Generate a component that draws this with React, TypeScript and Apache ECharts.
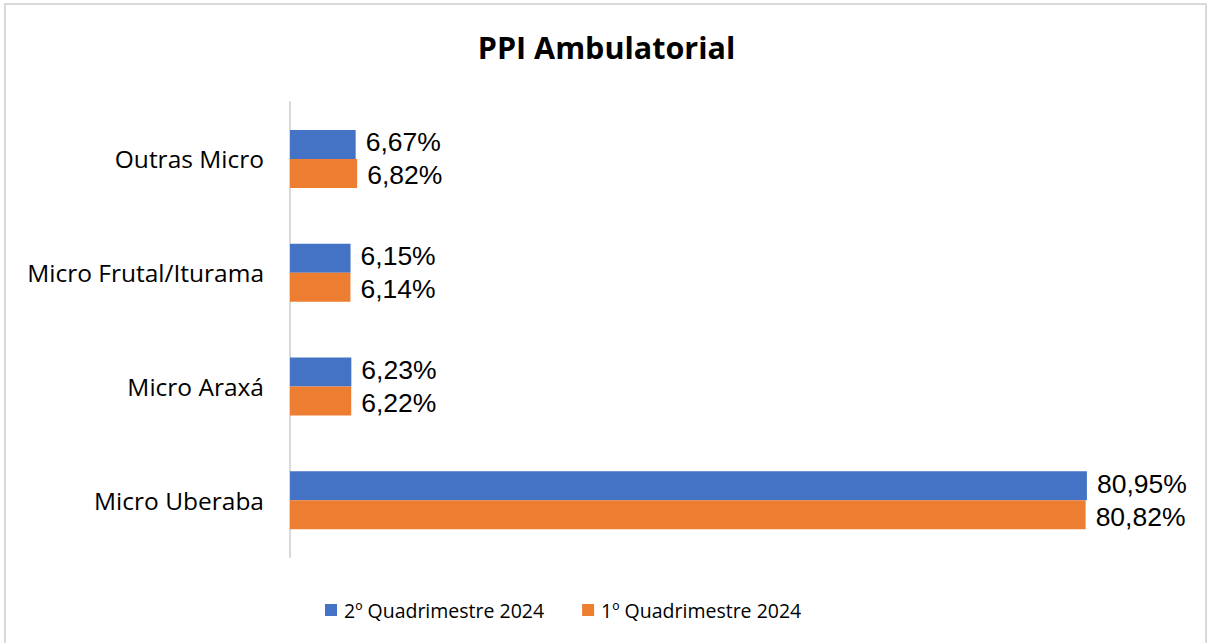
import React, { useEffect, useRef } from "react";
import * as echarts from "echarts";

const categories = ["Micro Uberaba", "Micro Araxá", "Micro Frutal/Iturama", "Outras Micro"];
const seriesNames = ["2º Quadrimestre 2024", "1º Quadrimestre 2024"];
const q2Values = [80.95, 6.23, 6.15, 6.67];
const q1Values = [80.82, 6.22, 6.14, 6.82];
const colors = ["#4472C4", "#ED7D31"];

const FONT = "'Open Sans', 'Noto Sans', sans-serif";
const LABEL_FONT = "'Liberation Sans', Arial, sans-serif";

export default function App() {
  const ref = useRef<HTMLDivElement>(null);
  useEffect(() => {
    document.body.style.margin = "0";
    const chart = echarts.init(ref.current!, null, { renderer: "svg" });
    const fmt = (p: any) => p.value.toFixed(2).replace(".", ",") + "%";
    const makeLabel = (dy: number) => ({
      show: true,
      position: "right",
      distance: 10,
      offset: [0, dy],
      formatter: fmt,
      fontFamily: LABEL_FONT,
      fontSize: 26.5,
      lineHeight: 28,
      color: "#000",
    });
    chart.setOption({
      animation: false,
      backgroundColor: "#ffffff",
      title: {
        text: "PPI Ambulatorial",
        left: "center",
        top: 26,
        textStyle: { fontFamily: FONT, fontSize: 30.5, fontWeight: "bold", color: "#000" },
      },
      legend: {
        data: seriesNames,
        bottom: 18,
        left: 320,
        icon: "rect",
        itemWidth: 12,
        itemHeight: 12,
        itemGap: 38,
        textStyle: { fontFamily: FONT, fontSize: 19.5, color: "#000", padding: [0, 0, 0, 2] },
      },
      grid: { left: 290, top: 102, height: 455, right: 37 },
      xAxis: {
        type: "value",
        min: 0,
        max: 90,
        show: false,
      },
      yAxis: {
        type: "category",
        data: categories,
        axisLine: { show: true, lineStyle: { color: "#d9d9d9", width: 2 } },
        axisTick: { show: false },
        axisLabel: { fontFamily: FONT, fontSize: 24.5, color: "#000", margin: 26 },
      },
      graphic: [
        {
          type: "rect",
          shape: { x: 5, y: 4, width: 1201, height: 660 },
          style: { fill: "none", stroke: "#d9d9d9", lineWidth: 2 },
          silent: true,
        },
      ],
      series: [
        {
          name: seriesNames[0],
          type: "bar",
          data: q2Values,
          barWidth: 29,
          barGap: "0%",
          itemStyle: { color: colors[0] },
          label: makeLabel(-2),
        },
        {
          name: seriesNames[1],
          type: "bar",
          data: q1Values,
          barWidth: 29,
          barGap: "0%",
          itemStyle: { color: colors[1] },
          label: makeLabel(2),
        },
      ],
    });
    return () => chart.dispose();
  }, []);
  return <div ref={ref} style={{ position: "fixed", left: 0, top: 0, width: 1213, height: 643 }} />;
}
